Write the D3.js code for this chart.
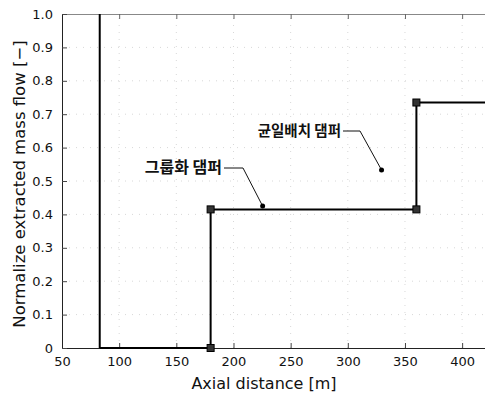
<!DOCTYPE html>
<html>
<head>
<meta charset="utf-8">
<script src="https://cdn.jsdelivr.net/npm/d3@7"></script>
<style>
  body { margin: 0; background: #fff; }
  svg { display: block; }
  .tick text { font-family: "DejaVu Sans", sans-serif; font-size: 13px; fill: #111; }
</style>
</head>
<body>
<div id="chart"></div>
<script>
// data
const xTicks = [50, 100, 150, 200, 250, 300, 350, 400];
const yTicks = [0, 0.1, 0.2, 0.3, 0.4, 0.5, 0.6, 0.7, 0.8, 0.9, 1.0];
const wallX = [83, 83];
const wallY = [0, 1.0];
const stepX = [83, 180, 180, 360, 360, 420];
const stepY = [0, 0, 0.415, 0.415, 0.735, 0.735];
const markerX = [180, 180, 360, 360];
const markerY = [0, 0.415, 0.415, 0.735];
const notes = [
    { label: "그룹화 댐퍼", x: 225.5, y: 0.425, tx: 222, ty: 168, knee: 243, size: 16 },
    { label: "균일배치 댐퍼", x: 329.5, y: 0.533, tx: 341, ty: 131, knee: 360, size: 14.5 }
];

const width = 485, height = 398;
const margin = { top: 14, right: 0, bottom: 50, left: 62 };

const svg = d3.select("#chart")
    .append("svg")
    .attr("width", width)
    .attr("height", height);

const x = d3.scaleLinear().domain([50, 420]).range([margin.left, width - margin.right]);
const y = d3.scaleLinear().domain([0, 1]).range([height - margin.bottom, margin.top]);

// faint dotted grid
svg.append("g")
    .selectAll("line")
    .data(yTicks.slice(1, -1))
    .join("line")
    .attr("x1", x(50)).attr("x2", x(420))
    .attr("y1", d => y(d)).attr("y2", d => y(d))
    .attr("stroke", "#d8d8d8")
    .attr("stroke-dasharray", "1,6");

svg.append("g")
    .selectAll("line")
    .data(xTicks.slice(1))
    .join("line")
    .attr("x1", d => x(d)).attr("x2", d => x(d))
    .attr("y1", y(0)).attr("y2", y(1))
    .attr("stroke", "#d8d8d8")
    .attr("stroke-dasharray", "1,6");

// axes
const xAxis = svg.append("g")
    .attr("transform", `translate(0,${y(0)})`)
    .call(d3.axisBottom(x).tickValues(xTicks).tickSize(-5).tickPadding(9).tickFormat(d3.format("d")));
xAxis.select(".domain").attr("stroke", "#222");
xAxis.selectAll(".tick line").attr("stroke", "#444");

const xTop = svg.append("g")
    .attr("transform", `translate(0,${y(1)})`)
    .call(d3.axisTop(x).tickValues(xTicks).tickSize(-5).tickFormat(""));
xTop.select(".domain").attr("stroke", "#888");
xTop.selectAll(".tick line").attr("stroke", "#666");

const yAxis = svg.append("g")
    .attr("transform", `translate(${x(50)},0)`)
    .call(d3.axisLeft(y).tickValues(yTicks).tickSize(-5).tickPadding(9)
        .tickFormat(d => d === 0 ? "0" : d3.format(".1f")(d)));
yAxis.select(".domain").attr("stroke", "#222");
yAxis.selectAll(".tick line").attr("stroke", "#444");

// axis titles
svg.append("text")
    .attr("x", 264)
    .attr("y", 389)
    .attr("text-anchor", "middle")
    .attr("font-family", "DejaVu Sans, sans-serif")
    .attr("font-size", 16)
    .attr("fill", "#111")
    .text("Axial distance [m]");

svg.append("text")
    .attr("transform", `translate(25,${(y(0) + y(1)) / 2 + 3}) rotate(-90)`)
    .attr("text-anchor", "middle")
    .attr("font-family", "DejaVu Sans, sans-serif")
    .attr("font-size", 16.5)
    .attr("fill", "#111")
    .text("Normalize extracted mass flow [\u2212]");

// lines
const line = d3.line().x(d => x(d[0])).y(d => y(d[1]));

svg.append("path")
    .datum(d3.zip(wallX, wallY))
    .attr("d", line)
    .attr("fill", "none")
    .attr("stroke", "#000")
    .attr("stroke-width", 2);

svg.append("path")
    .datum(d3.zip(stepX, stepY))
    .attr("d", line)
    .attr("fill", "none")
    .attr("stroke", "#000")
    .attr("stroke-width", 2);

svg.append("g")
    .selectAll("rect")
    .data(d3.zip(markerX, markerY))
    .join("rect")
    .attr("x", d => x(d[0]) - 3.5)
    .attr("y", d => y(d[1]) - 3.5)
    .attr("width", 7)
    .attr("height", 7)
    .attr("fill", "#333")
    .attr("stroke", "#000")
    .attr("stroke-width", 1);

// annotations
const note = svg.append("g")
    .selectAll("g")
    .data(notes)
    .join("g");

note.append("path")
    .attr("d", d => `M${d.tx + 2},${d.ty}H${d.knee}L${x(d.x)},${y(d.y)}`)
    .attr("fill", "none")
    .attr("stroke", "#111")
    .attr("stroke-width", 1);

note.append("circle")
    .attr("cx", d => x(d.x))
    .attr("cy", d => y(d.y))
    .attr("r", 2.5)
    .attr("fill", "#000");

note.append("text")
    .attr("x", d => d.tx)
    .attr("y", d => d.ty + 5)
    .attr("text-anchor", "end")
    .attr("font-family", "Noto Sans CJK KR, sans-serif")
    .attr("font-weight", "bold")
    .attr("font-size", d => d.size)
    .attr("fill", "#111")
    .text(d => d.label);
</script>
</body>
</html>
